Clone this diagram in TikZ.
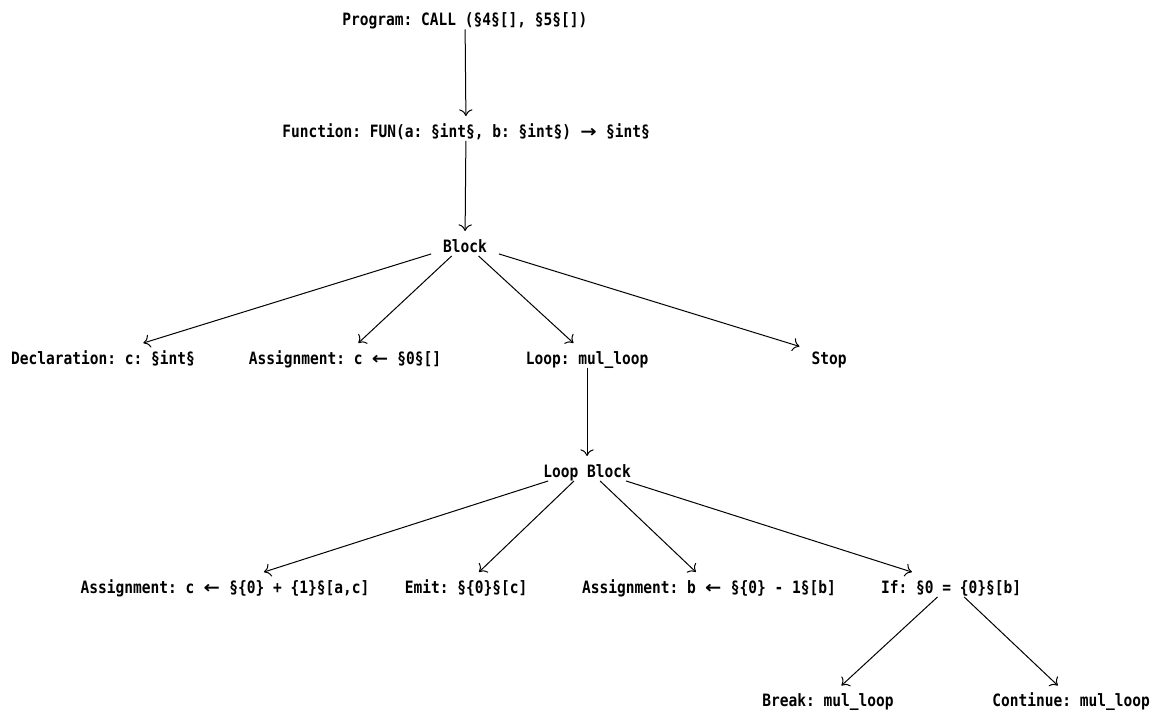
\documentclass[tikz,border=0pt]{standalone}
\usepackage{fontspec}
\usepackage{graphicx}
\setmonofont[FakeStretch=0.855]{DejaVu Sans Mono}
\newfontfamily\arrfont{DejaVu Sans}
\newcommand{\rarr}{\makebox[13.1pt]{\scalebox{1.15}[1]{\arrfont\bfseries →}}}
\newcommand{\larr}{\makebox[13.1pt]{\scalebox{1.15}[1]{\arrfont\bfseries ←}}}
\usetikzlibrary{arrows.meta}
\begin{document}
\begin{tikzpicture}[x=0.75pt,y=-0.75pt,
  lbl/.style={font=\fontsize{12.75pt}{14pt}\ttfamily\bfseries, inner sep=0pt,
    text height=13.1pt, text depth=0pt, outer xsep=9pt, outer ysep=2.8pt},
  edge/.style={line width=0.75pt, -{Computer Modern Rightarrow[length=5pt,width=10pt]}}]
\useasboundingbox (0,0) rectangle (1169,711);
\node[lbl] (prog) at (465,17) {Program: CALL (§4§[], §5§[])};
\node[lbl] (fun) at (466,128.5) {Function: FUN(a: §int§, b: §int§) \rarr{} §int§};
\node[lbl] (block) at (465,243.5) {Block};
\node[lbl] (decl) at (103,355.5) {Declaration: c: §int§};
\node[lbl] (asg1) at (345,355.5) {Assignment: c \larr{} §0§[]};
\node[lbl] (loop) at (587,355.5) {Loop: mul\_loop};
\node[lbl] (stop) at (829,355.5) {Stop};
\node[lbl] (lblock) at (587,468.5) {Loop Block};
\node[lbl] (asg2) at (225,584.5) {Assignment: c \larr{} §\{0\} + \{1\}§[a,c]};
\node[lbl] (emit) at (466,584.5) {Emit: §\{0\}§[c]};
\node[lbl] (asg3) at (709,584.5) {Assignment: b \larr{} §\{0\} - 1§[b]};
\node[lbl] (if) at (951,584.5) {If: §0 = \{0\}§[b]};
\node[lbl] (brk) at (828,698) {Break: mul\_loop};
\node[lbl] (cont) at (1071,698) {Continue: mul\_loop};
\draw[edge] (prog) -- (fun);
\draw[edge] (fun) -- (block);
\draw[edge] (block) -- (decl);
\draw[edge] (block) -- (asg1);
\draw[edge] (block) -- (loop);
\draw[edge] (block) -- (stop);
\draw[edge] (loop) -- (lblock);
\draw[edge] (lblock) -- (asg2);
\draw[edge] (lblock) -- (emit);
\draw[edge] (lblock) -- (asg3);
\draw[edge] (lblock) -- (if);
\draw[edge] (if) -- (brk);
\draw[edge] (if) -- (cont);
\end{tikzpicture}
\end{document}
